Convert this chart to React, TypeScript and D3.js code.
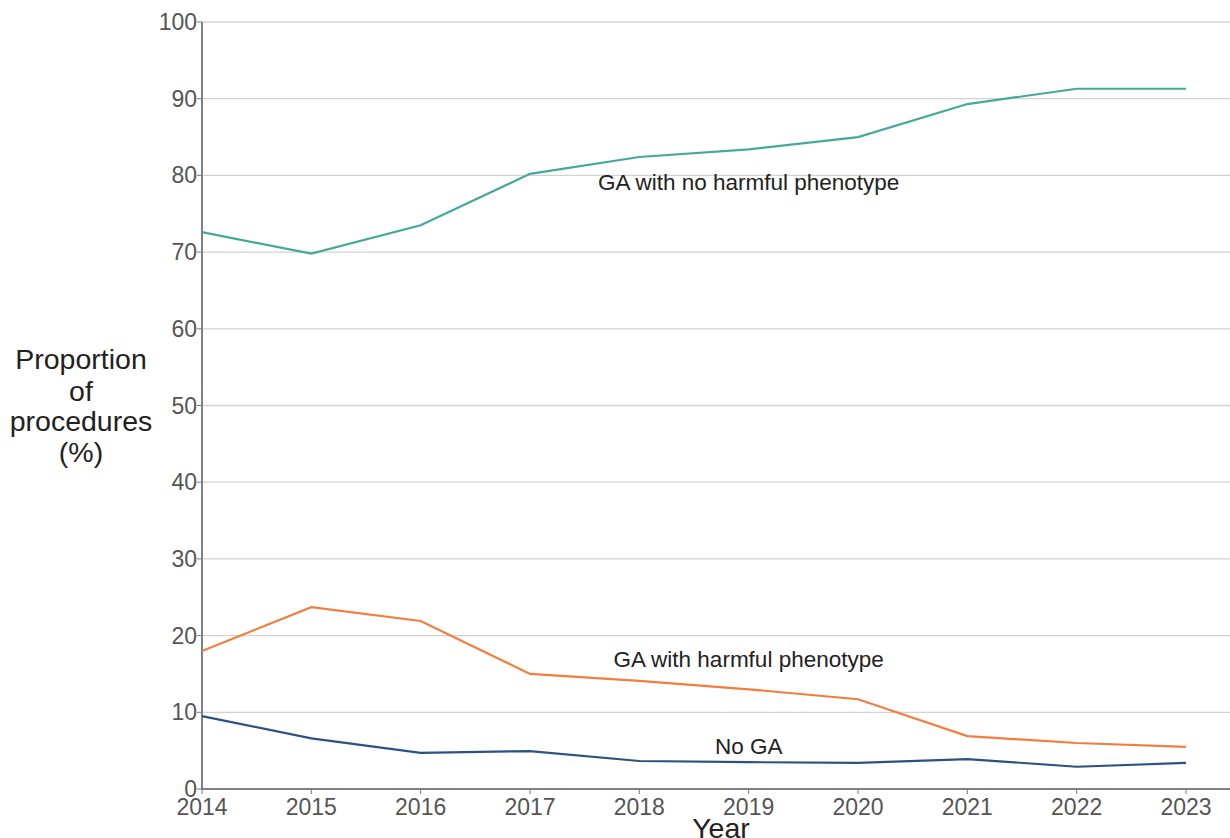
import React from "react";
import * as d3 from "d3";

const years = [2014, 2015, 2016, 2017, 2018, 2019, 2020, 2021, 2022, 2023];
const gaNoHarmful = [72.6, 69.8, 73.5, 80.2, 82.4, 83.4, 85.0, 89.3, 91.3, 91.3];
const gaHarmful = [18.0, 23.7, 21.9, 15.0, 14.1, 13.0, 11.7, 6.9, 6.0, 5.5];
const noGA = [9.5, 6.6, 4.7, 4.95, 3.65, 3.5, 3.4, 3.9, 2.9, 3.4];
const yTicks = [0, 10, 20, 30, 40, 50, 60, 70, 80, 90, 100];

const seriesList = [
  { name: "GA with no harmful phenotype", values: gaNoHarmful, color: "#45a99a", labelX: 2019, labelY: 78.1 },
  { name: "GA with harmful phenotype", values: gaHarmful, color: "#f27d3f", labelX: 2019, labelY: 15.9 },
  { name: "No GA", values: noGA, color: "#2c5282", labelX: 2019, labelY: 4.6 },
];

export default function App() {
  const W = 1230, H = 838;
  const x = d3.scaleLinear().domain([2014, 2023]).range([202, 1186]);
  const y = d3.scaleLinear().domain([0, 100]).range([789, 22]);
  const line = d3.line<number>().x((_, i) => x(years[i])).y((d) => y(d));
  const font = "'Liberation Sans', Arial, sans-serif";
  return (
    <svg width={W} height={H} style={{ position: "absolute", left: 0, top: 0, background: "#fff" }} fontFamily={font}>
      {yTicks.map((t) => (
        <g key={t}>
          {t > 0 && <line x1={202} x2={1230} y1={y(t)} y2={y(t)} stroke="#d3d3d3" strokeWidth={1.3} />}
          <line x1={197} x2={202} y1={y(t)} y2={y(t)} stroke="#777" strokeWidth={1} />
          <text x={197} y={y(t) + 8} textAnchor="end" fontSize={23} fill="#555">{t}</text>
        </g>
      ))}
      <line x1={202} x2={1230} y1={y(0)} y2={y(0)} stroke="#808080" strokeWidth={2} />
      <line x1={202} x2={202} y1={y(100)} y2={y(0) + 1} stroke="#808080" strokeWidth={2} />
      {years.map((yr) => (
        <g key={yr}>
          <line x1={x(yr)} x2={x(yr)} y1={y(0)} y2={y(0) + 5} stroke="#777" strokeWidth={1} />
          <text x={x(yr)} y={815} textAnchor="middle" fontSize={23} fill="#555">{yr}</text>
        </g>
      ))}
      {seriesList.map((s) => (
        <g key={s.name}>
          <path d={line(s.values) || ""} fill="none" stroke={s.color} strokeWidth={2.2} />
          <text x={x(s.labelX)} y={y(s.labelY)} textAnchor="middle" fontSize={22.5} fill="#222">{s.name}</text>
        </g>
      ))}
      <text x={721} y={838} textAnchor="middle" fontSize={28.5} fill="#222">Year</text>
      <g fontSize={28.5} fill="#222" textAnchor="middle">
        <text x={81} y={369}>Proportion</text>
        <text x={81} y={401}>of</text>
        <text x={81} y={431}>procedures</text>
        <text x={81} y={462}>(%)</text>
      </g>
    </svg>
  );
}
